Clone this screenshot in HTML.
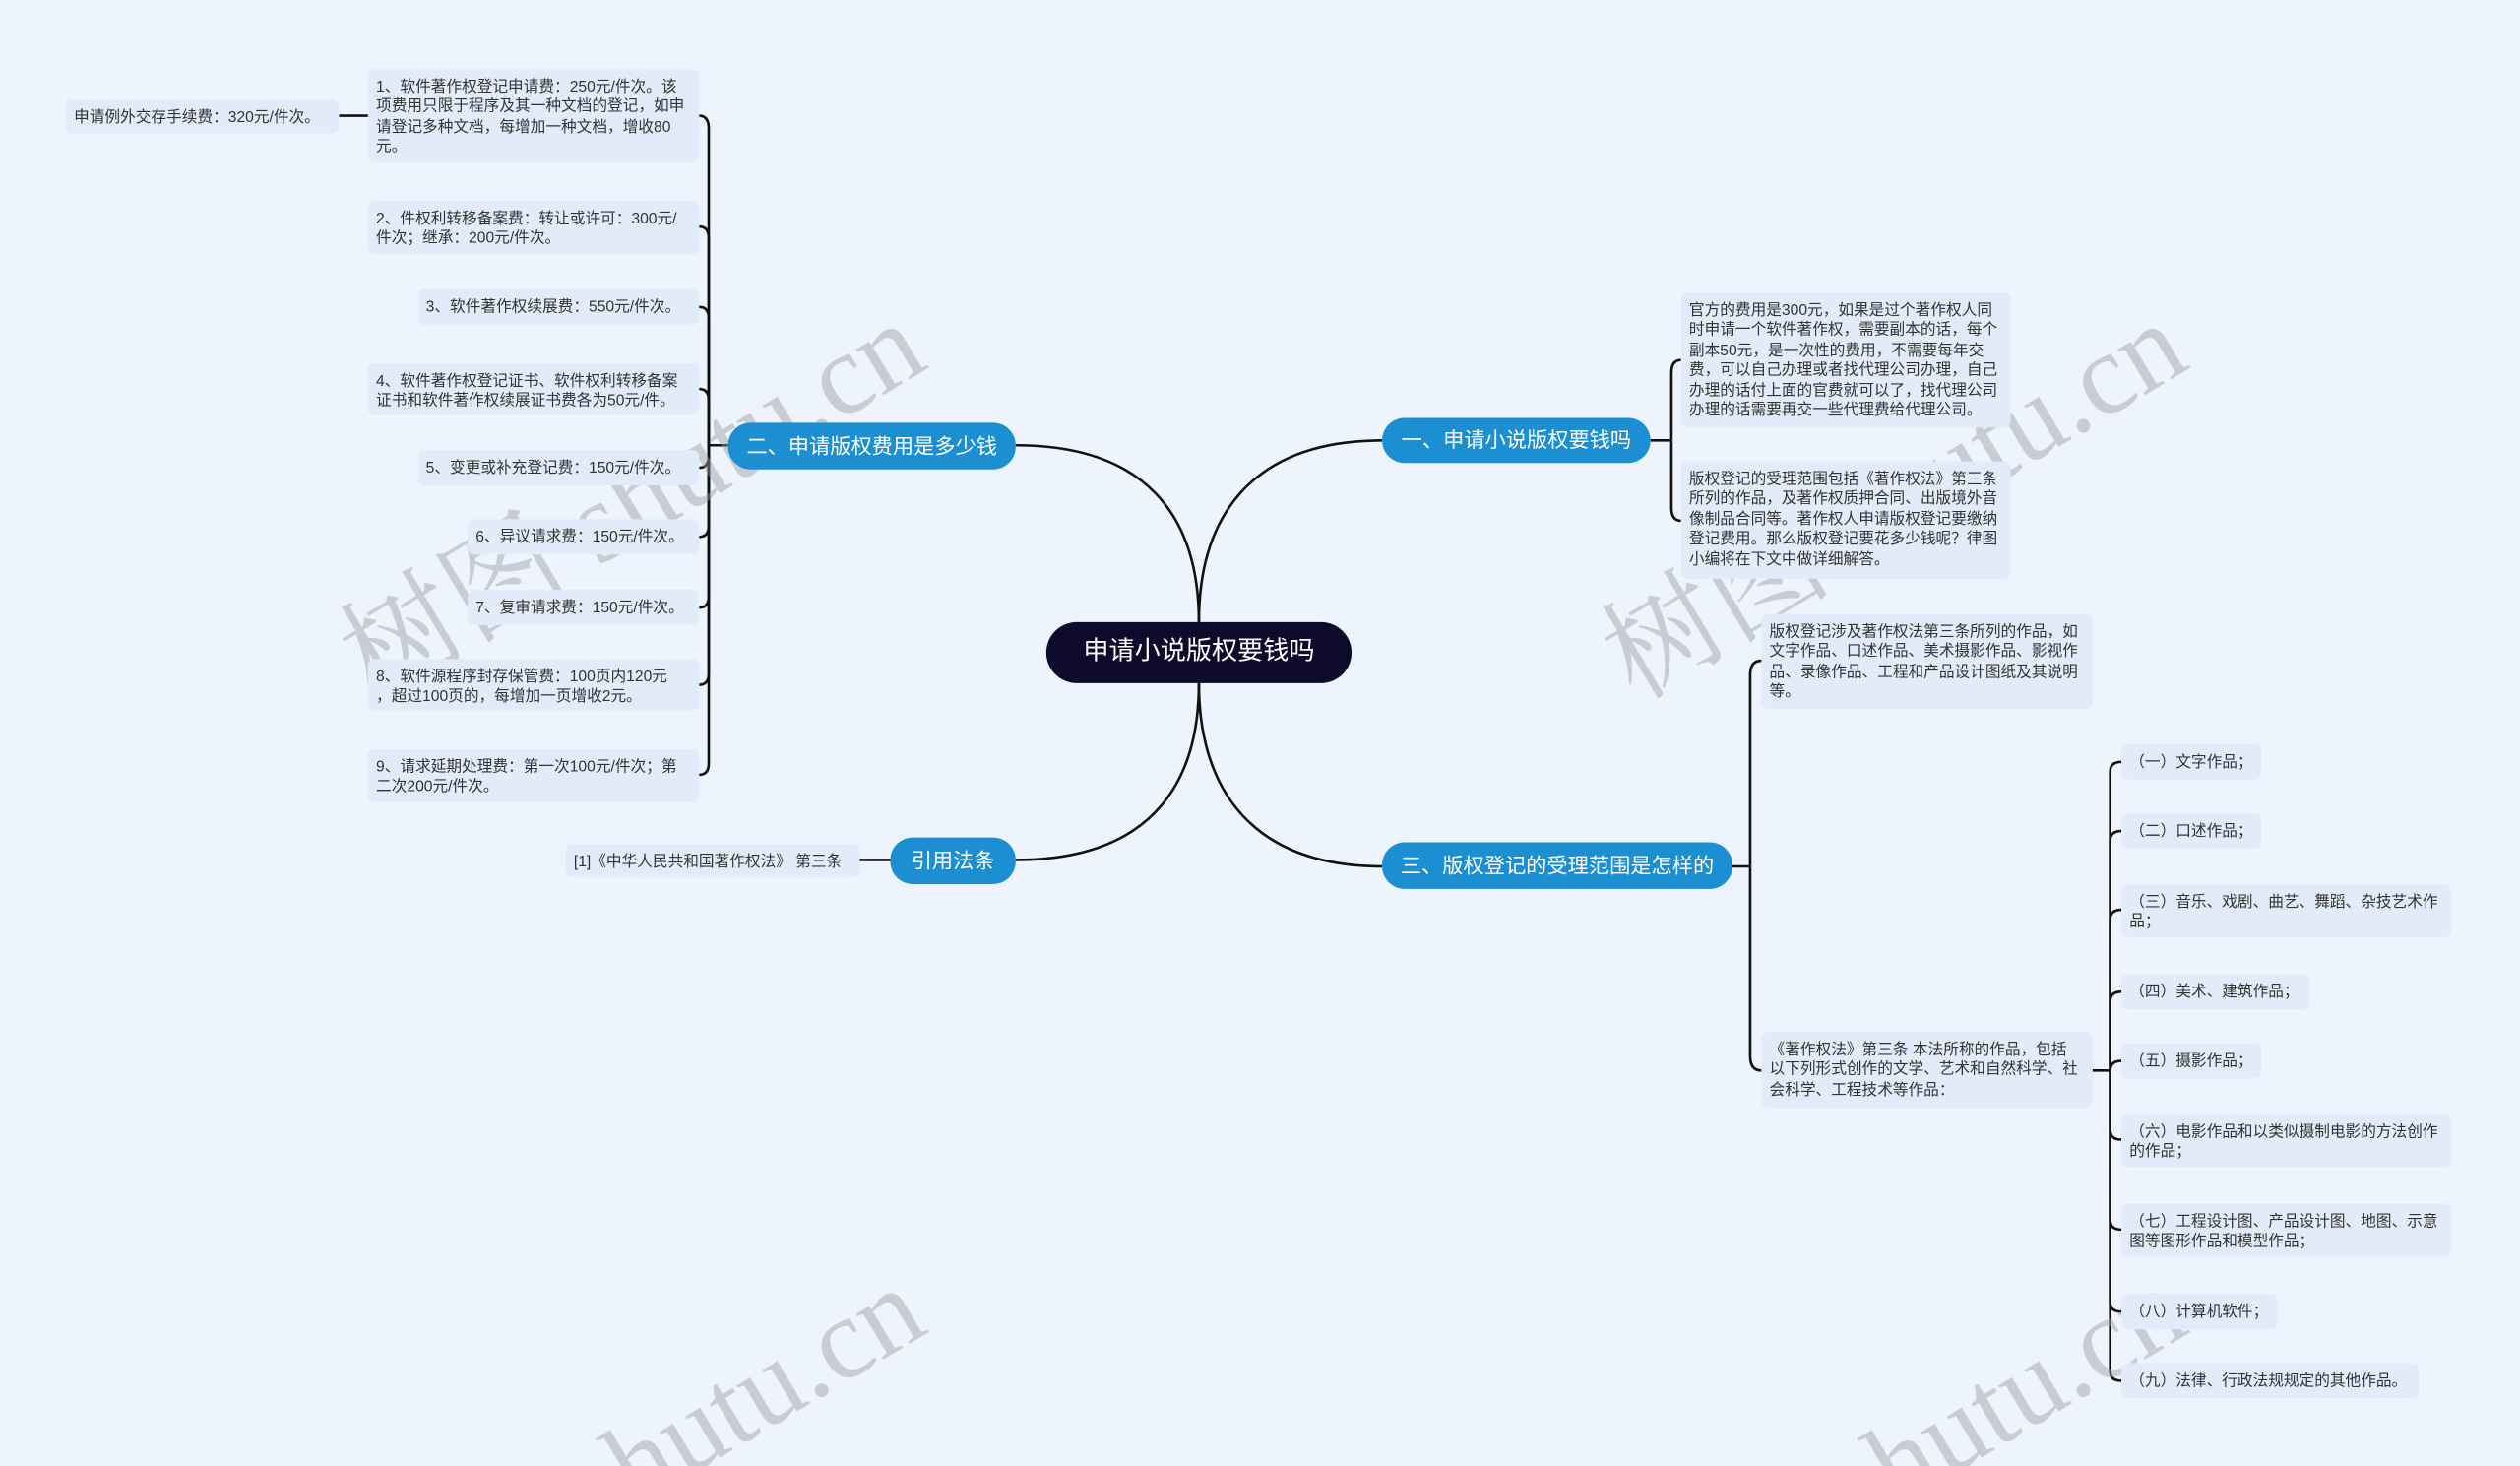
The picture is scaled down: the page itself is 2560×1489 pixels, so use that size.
<!DOCTYPE html>
<html><head><meta charset="utf-8">
<style>
html,body{margin:0;padding:0;width:2560px;height:1489px;overflow:hidden;background:#eef4fe;}
#wrap{position:relative;width:2560px;height:1489px;overflow:hidden;}
#s{position:absolute;left:0;top:0;width:1568px;height:912px;transform:scale(1.63265);transform-origin:0 0;font-family:"Liberation Sans","Noto Sans CJK SC",sans-serif;overflow:hidden;}
.b{position:absolute;box-sizing:border-box;background:#e2ebfa;border-radius:4px;color:#333;font-size:9.6px;line-height:12.6px;padding:5.5px 5px 3px;white-space:nowrap;overflow:hidden;}
.br{position:absolute;box-sizing:border-box;background:#1c8fd2;color:#fff;border-radius:14px;font-size:13px;text-align:center;}
.wm{position:absolute;font-family:"Liberation Serif","Noto Serif CJK SC",serif;font-size:72px;color:rgba(150,155,165,0.45);transform:rotate(-31deg);transform-origin:0 0;white-space:nowrap;}
</style></head><body>
<div id="wrap">
<div id="s">
<svg width="1568" height="912" style="position:absolute;left:0;top:0" fill="none" stroke="#111" stroke-width="1.6">
<path d="M746,387 C746,320 780,274 860,274"/>
<path d="M746,387 C746,320 712,277 632,277"/>
<path d="M746,425 C746,492 780,539 860,539"/>
<path d="M746,425 C746,492 712,535 632,535"/>
<path d="M554,535 L535,535"/>
<path d="M229,72 L211,72"/>
<path d="M453,277 L441,277"/>
<g>
<path d="M441,277 L441,80 Q441,72 435,72"/>
<path d="M441,277 L441,148 Q441,141 435,141"/>
<path d="M441,277 L441,198 Q441,191 435,191"/>
<path d="M441,277 L441,249 Q441,242 435,242"/>
<path d="M441,277 L441,284 Q441,291 435,291"/>
<path d="M441,277 L441,327 Q441,334 435,334"/>
<path d="M441,277 L441,371 Q441,378 435,378"/>
<path d="M441,277 L441,419 Q441,426 435,426"/>
<path d="M441,277 L441,475 Q441,482 435,482"/>
</g>
<path d="M1027,274 L1040,274"/>
<path d="M1040,274 L1040,232 Q1040,224 1046,224"/>
<path d="M1040,274 L1040,316 Q1040,324 1046,324"/>
<path d="M1078,539 L1089,539"/>
<path d="M1089,539 L1089,420 Q1089,411 1096,411"/>
<path d="M1089,539 L1089,657 Q1089,666 1096,666"/>
<path d="M1302,666 L1313,666"/>
<g>
<path d="M1313,666 L1313,480 Q1313,474 1320,474"/>
<path d="M1313,666 L1313,523 Q1313,517 1320,517"/>
<path d="M1313,666 L1313,572 Q1313,566 1320,566"/>
<path d="M1313,666 L1313,623 Q1313,617 1320,617"/>
<path d="M1313,666 L1313,666 Q1313,660 1320,660"/>
<path d="M1313,666 L1313,703 Q1313,709 1320,709"/>
<path d="M1313,666 L1313,759 Q1313,765 1320,765"/>
<path d="M1313,666 L1313,810 Q1313,816 1320,816"/>
<path d="M1313,666 L1313,853 Q1313,859 1320,859"/>
</g>
</svg>

<div class="wm" style="left:190px;top:365px">树图 shutu.cn</div>
<div class="wm" style="left:975px;top:365px">树图 shutu.cn</div>
<div class="wm" style="left:190px;top:965px">树图 shutu.cn</div>
<div class="wm" style="left:975px;top:965px">树图 shutu.cn</div>

<div style="position:absolute;left:651px;top:387px;width:190px;height:38px;background:#0d0a2c;border-radius:19px;color:#fff;font-size:16px;line-height:38px;text-align:center;">申请小说版权要钱吗</div>
<div class="br" style="left:860px;top:260px;width:167px;height:28px;line-height:28px;">一、申请小说版权要钱吗</div>
<div class="br" style="left:453px;top:263px;width:179px;height:29px;line-height:29px;">二、申请版权费用是多少钱</div>
<div class="br" style="left:860px;top:524px;width:218px;height:29px;line-height:29px;">三、版权登记的受理范围是怎样的</div>
<div class="br" style="left:554px;top:521px;width:78px;height:29px;line-height:29px;">引用法条</div>

<div class="b" style="left:41px;top:62px;width:170px;height:21px;">申请例外交存手续费：320元/件次。</div>
<div class="b" style="left:229px;top:43px;width:206px;height:58px;">1、软件著作权登记申请费：250元/件次。该<br>项费用只限于程序及其一种文档的登记，如申<br>请登记多种文档，每增加一种文档，增收80<br>元。</div>
<div class="b" style="left:229px;top:125px;width:206px;height:33px;">2、件权利转移备案费：转让或许可：300元/<br>件次；继承：200元/件次。</div>
<div class="b" style="left:260px;top:180px;width:175px;height:22px;">3、软件著作权续展费：550元/件次。</div>
<div class="b" style="left:229px;top:226px;width:206px;height:32px;">4、软件著作权登记证书、软件权利转移备案<br>证书和软件著作权续展证书费各为50元/件。</div>
<div class="b" style="left:260px;top:280px;width:175px;height:22px;">5、变更或补充登记费：150元/件次。</div>
<div class="b" style="left:291px;top:323px;width:144px;height:22px;">6、异议请求费：150元/件次。</div>
<div class="b" style="left:291px;top:367px;width:144px;height:22px;">7、复审请求费：150元/件次。</div>
<div class="b" style="left:229px;top:410px;width:206px;height:32px;">8、软件源程序封存保管费：100页内120元<br>，超过100页的，每增加一页增收2元。</div>
<div class="b" style="left:229px;top:466px;width:206px;height:33px;">9、请求延期处理费：第一次100元/件次；第<br>二次200元/件次。</div>
<div class="b" style="left:352px;top:525px;width:183px;height:21px;">[1]《中华人民共和国著作权法》 第三条</div>

<div class="b" style="left:1046px;top:182px;width:205px;height:84px;">官方的费用是300元，如果是过个著作权人同<br>时申请一个软件著作权，需要副本的话，每个<br>副本50元，是一次性的费用，不需要每年交<br>费，可以自己办理或者找代理公司办理，自己<br>办理的话付上面的官费就可以了，找代理公司<br>办理的话需要再交一些代理费给代理公司。</div>
<div class="b" style="left:1046px;top:287px;width:205px;height:73px;">版权登记的受理范围包括《著作权法》第三条<br>所列的作品，及著作权质押合同、出版境外音<br>像制品合同等。著作权人申请版权登记要缴纳<br>登记费用。那么版权登记要花多少钱呢？律图<br>小编将在下文中做详细解答。</div>
<div class="b" style="left:1096px;top:382px;width:206px;height:59px;">版权登记涉及著作权法第三条所列的作品，如<br>文字作品、口述作品、美术摄影作品、影视作<br>品、录像作品、工程和产品设计图纸及其说明<br>等。</div>
<div class="b" style="left:1096px;top:642px;width:206px;height:47px;">《著作权法》第三条 本法所称的作品，包括<br>以下列形式创作的文学、艺术和自然科学、社<br>会科学、工程技术等作品：</div>

<div class="b" style="left:1320px;top:463px;width:87px;height:22px;">（一）文字作品；</div>
<div class="b" style="left:1320px;top:506px;width:87px;height:22px;">（二）口述作品；</div>
<div class="b" style="left:1320px;top:550px;width:205px;height:33px;">（三）音乐、戏剧、曲艺、舞蹈、杂技艺术作<br>品；</div>
<div class="b" style="left:1320px;top:606px;width:117px;height:22px;">（四）美术、建筑作品；</div>
<div class="b" style="left:1320px;top:649px;width:87px;height:22px;">（五）摄影作品；</div>
<div class="b" style="left:1320px;top:693px;width:205px;height:33px;">（六）电影作品和以类似摄制电影的方法创作<br>的作品；</div>
<div class="b" style="left:1320px;top:749px;width:205px;height:33px;">（七）工程设计图、产品设计图、地图、示意<br>图等图形作品和模型作品；</div>
<div class="b" style="left:1320px;top:805px;width:97px;height:22px;">（八）计算机软件；</div>
<div class="b" style="left:1320px;top:848px;width:185px;height:22px;">（九）法律、行政法规规定的其他作品。</div>
</div>
</div>
</body></html>
